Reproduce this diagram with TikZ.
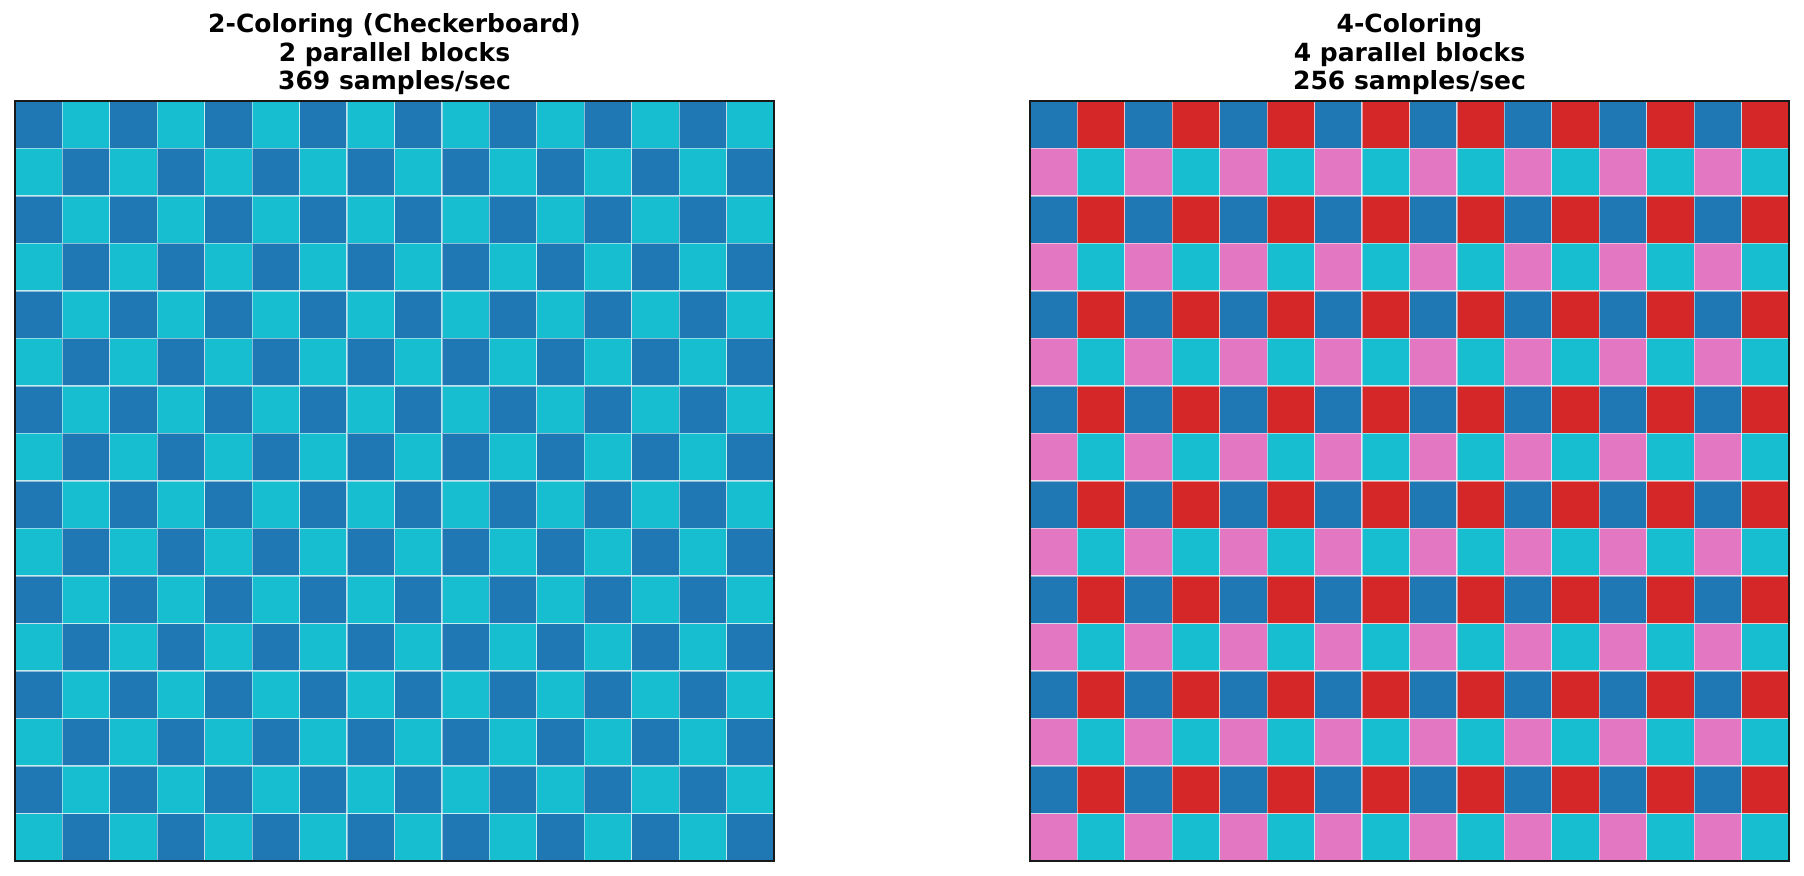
\documentclass[tikz,border=0pt]{standalone}
\usepackage{fontspec}
\setmainfont{DejaVu Sans}
\definecolor{tabblue}{HTML}{1F77B4}
\definecolor{tabcyan}{HTML}{17BECF}
\definecolor{tabred}{HTML}{D62728}
\definecolor{tabpink}{HTML}{E377C2}
\tikzset{
  cell/.style={draw=white,draw opacity=0.5,line width=0.6pt},
  frame/.style={draw=black!90,line width=1pt,inner sep=0pt,outer sep=0pt,minimum width=379.5pt,minimum height=380pt},
  title/.style={align=center,font=\bfseries\fontsize{12.5}{14.3}\selectfont,anchor=base,inner sep=0pt}
}

\begin{document}
\begin{tikzpicture}[x=0.5pt,y=-0.5pt]
   \useasboundingbox (0,0) rectangle (1804,876);
   % left board: two colours
   \foreach \r in {0,...,15}
     \foreach \c in {0,...,15} {
       \pgfmathparse{mod(\r+\c,2)==0 ? "tabblue" : "tabcyan"}
       \edef\cellcol{\pgfmathresult}
       \path[cell,fill=\cellcol] ({15+\c*47.4375},{101+\r*47.5}) rectangle ++(47.4375,47.5);
     }
   % right board: four colours
   \foreach \r in {0,...,15}
     \foreach \c in {0,...,15} {
       \pgfmathparse{mod(\r,2)==0 ? (mod(\c,2)==0 ? "tabblue" : "tabred") : (mod(\c,2)==0 ? "tabpink" : "tabcyan")}
       \edef\cellcol{\pgfmathresult}
       \path[cell,fill=\cellcol] ({1030+\c*47.4375},{101+\r*47.5}) rectangle ++(47.4375,47.5);
     }
   \node[frame,draw] (boardL) at (394.5,481) {};
   \node[frame,draw] (boardR) at (1409.5,481) {};
   \node[title] (tL) at (394.5,90) {2-Coloring (Checkerboard)\\2 parallel blocks\\369 samples/sec};
   \node[title] (tR) at (1409.5,90) {4-Coloring\\4 parallel blocks\\256 samples/sec};
\end{tikzpicture}
\end{document}
